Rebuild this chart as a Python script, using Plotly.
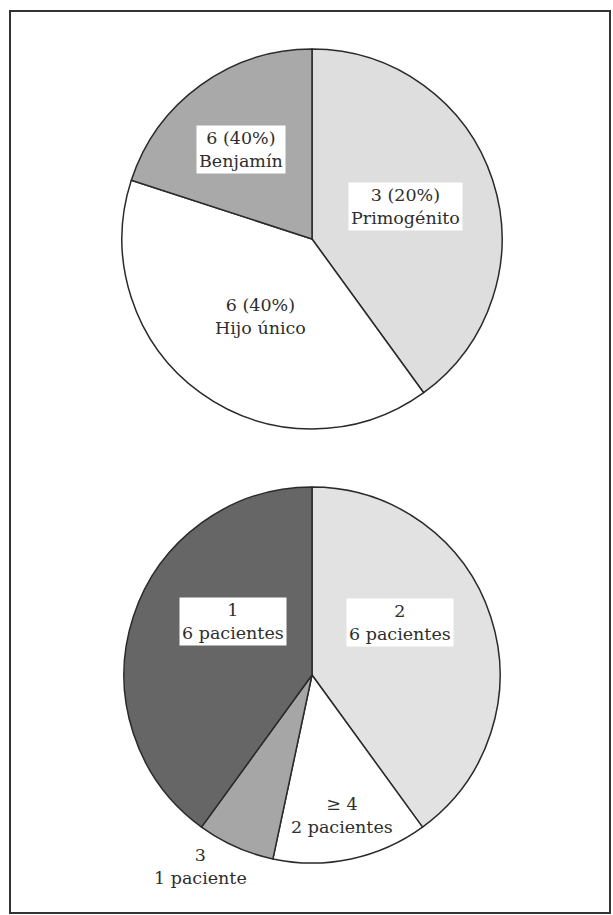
import plotly.graph_objects as go

# Top chart: birth order (slice sizes as drawn, labels as printed)
top_labels = ["Primogénito", "Hijo único", "Benjamín"]
top_sizes = [6, 6, 3]
top_text = ["3 (20%)<br>Primogénito", "6 (40%)<br>Hijo único", "6 (40%)<br>Benjamín"]
top_colors = ["#dedede", "#ffffff", "#a9a9a9"]

# Bottom chart: number of siblings
bot_labels = ["2", "≥ 4", "3", "1"]
bot_values = [6, 2, 1, 6]
bot_text = ["2<br>6 pacientes", "≥ 4<br>2 pacientes", "3<br>1 paciente", "1<br>6 pacientes"]
bot_colors = ["#e2e2e2", "#ffffff", "#a6a6a6", "#666666"]

W, H = 613, 915

def dom(cx, cy, r):
    return dict(x=[(cx - r) / W, (cx + r) / W], y=[1 - (cy + r) / H, 1 - (cy - r) / H])

fig = go.Figure()
fig.add_trace(go.Pie(
    labels=top_labels, values=top_sizes, sort=False, direction="clockwise", rotation=0,
    marker=dict(colors=top_colors, line=dict(color="#2a2a2a", width=1.5)),
    textinfo="none", hoverinfo="label+value", domain=dom(312, 239, 190), showlegend=False,
))
fig.add_trace(go.Pie(
    labels=bot_labels, values=bot_values, sort=False, direction="clockwise", rotation=0,
    marker=dict(colors=bot_colors, line=dict(color="#2a2a2a", width=1.5)),
    textinfo="none", hoverinfo="label+value", domain=dom(312, 675, 188), showlegend=False,
))

font = dict(family="DejaVu Serif", size=17.5, color="#2e2e2e")

# label placements (pixel coordinates of label centers) and whether boxed
top_pos = [(405, 207, True), (260, 316, False), (241, 150, True)]
bot_pos = [(400, 622, True), (342, 815, False), (200, 866, False), (233, 621, True)]

annots = []
for txt, (x, y, boxed) in list(zip(top_text, top_pos)) + list(zip(bot_text, bot_pos)):
    annots.append(dict(
        x=x / W, y=1 - y / H, xref="paper", yref="paper", text=txt, showarrow=False,
        font=font, align="center", xanchor="center", yanchor="middle",
        bgcolor="#ffffff" if boxed else "rgba(0,0,0,0)", borderpad=2,
    ))

fig.update_layout(
    width=W, height=H, margin=dict(l=0, r=0, t=0, b=0),
    paper_bgcolor="#ffffff", plot_bgcolor="#ffffff",
    annotations=annots,
    shapes=[dict(type="rect", xref="paper", yref="paper",
                 x0=10 / W, x1=610 / W, y0=1 - 913 / H, y1=1 - 11 / H,
                 line=dict(color="#333333", width=2))],
)

fig.write_html("out.html")
